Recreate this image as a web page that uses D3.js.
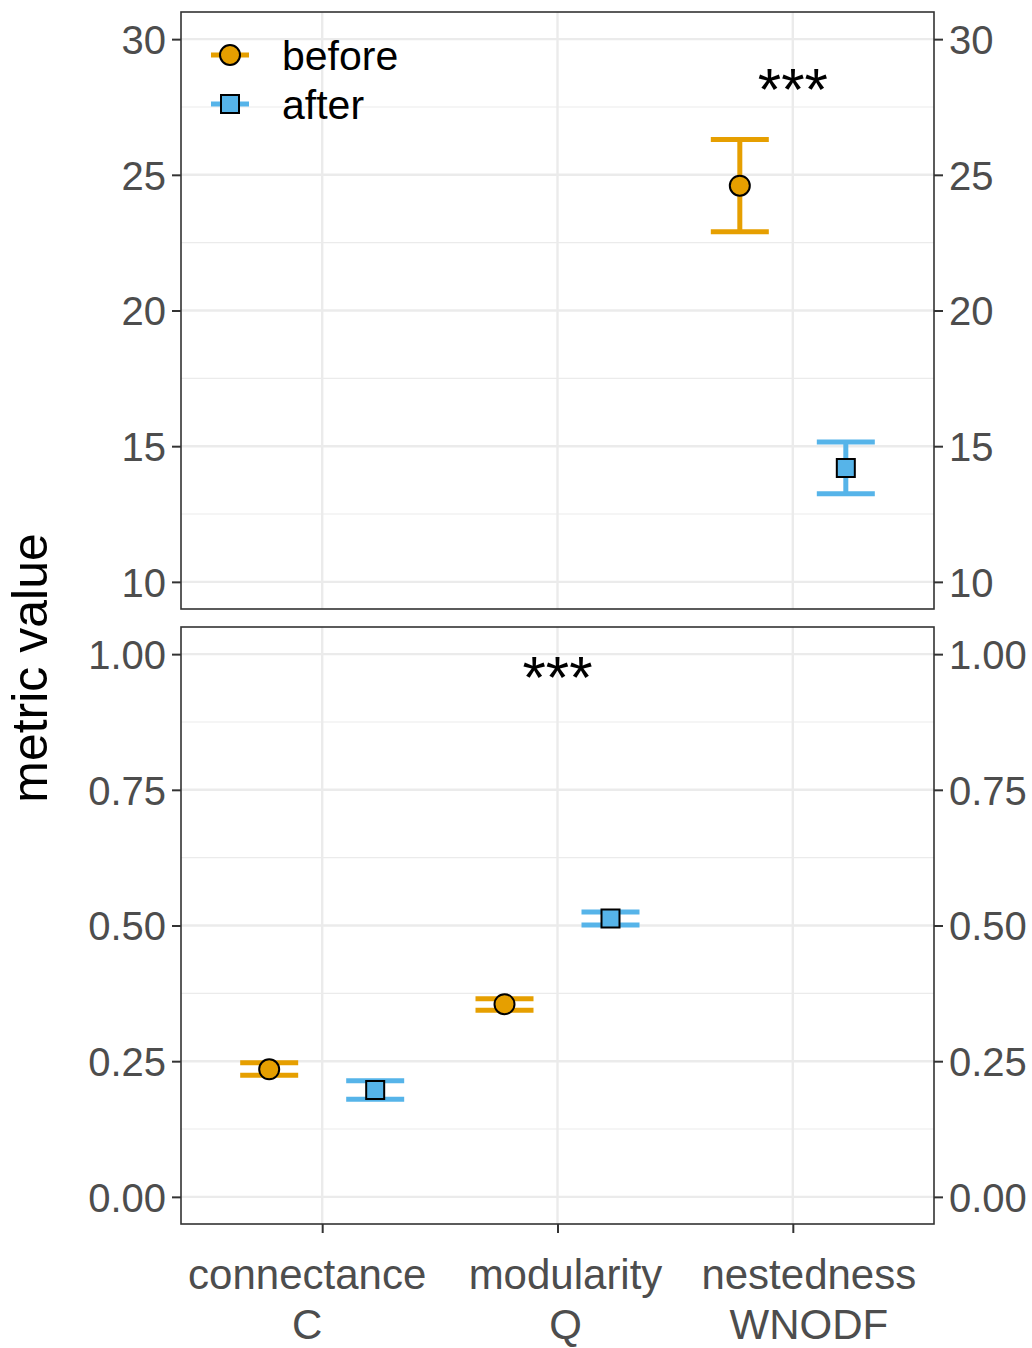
<!DOCTYPE html>
<html>
<head>
<meta charset="utf-8">
<script src="https://cdn.jsdelivr.net/npm/d3@7"></script>
<style>
	body { margin: 0; background: #fff; }
	text { font-family: "Liberation Sans", Arial, sans-serif; }
</style>
</head>
<body>
<div id="chart"></div>
<script>
// data
const categories = ['connectance', 'modularity', 'nestedness'];
const catLine1 = ['connectance', 'modularity', 'nestedness'];
const catLine2 = ['C', 'Q', 'WNODF'];
const groups = ['before', 'after'];

const beforeMean = [0.235, 0.355, 24.6];
const beforeLow = [0.224, 0.344, 22.9];
const beforeHigh = [0.247, 0.365, 26.3];

const afterMean = [0.197, 0.513, 14.2];
const afterLow = [0.180, 0.501, 13.25];
const afterHigh = [0.214, 0.525, 15.15];

// which panel each category sits in (0 = top, 1 = bottom)
const panelOf = [1, 1, 0];
const topTicks = [10, 15, 20, 25, 30];
const bottomTicks = [0, 0.25, 0.5, 0.75, 1];
const stars = [{ cat: 'nestedness', panel: 0, y: 28.5 }, { cat: 'modularity', panel: 1, y: 0.975 }];

const colors = { before: '#E69F00', after: '#56B4E9' };

const W = 1032, H = 1348;
const left = 181, right = 934;
// labels under the axis are not quite centred on their ticks in the original
const labelShift = [-15, 8, 16];

const panels = [
	{ top: 12, bottom: 609, domain: [9, 31], ticks: topTicks, fmt: d3.format('d'), minor: [12.5, 17.5, 22.5, 27.5] },
	{ top: 627, bottom: 1224, domain: [-0.05, 1.05], ticks: bottomTicks, fmt: d3.format('.2f'), minor: [0.125, 0.375, 0.625, 0.875] }
];

const svg = d3.select('#chart').append('svg')
	.attr('width', W)
	.attr('height', H);

const x = d3.scalePoint()
	.domain(categories)
	.range([left, right])
	.padding(0.6);

const dodge = d3.scaleBand().domain(groups).range([-53, 53]).paddingInner(1);
const capHalf = 29;

const rows = [];
categories.forEach((c, i) => {
	rows.push({ cat: c, group: 'before', mean: beforeMean[i], lo: beforeLow[i], hi: beforeHigh[i], panel: panelOf[i] });
	rows.push({ cat: c, group: 'after', mean: afterMean[i], lo: afterLow[i], hi: afterHigh[i], panel: panelOf[i] });
});

panels.forEach((p, pi) => {
	const y = d3.scaleLinear().domain(p.domain).range([p.bottom, p.top]);
	p.y = y;
	const g = svg.append('g');

	// grid
	g.selectAll('.minor').data(p.minor).join('line')
		.attr('x1', left).attr('x2', right)
		.attr('y1', d => y(d)).attr('y2', d => y(d))
		.attr('stroke', '#ebebeb').attr('stroke-width', 1.2);
	g.selectAll('.major').data(p.ticks).join('line')
		.attr('x1', left).attr('x2', right)
		.attr('y1', d => y(d)).attr('y2', d => y(d))
		.attr('stroke', '#ebebeb').attr('stroke-width', 2.4);
	g.selectAll('.vmajor').data(categories).join('line')
		.attr('x1', d => x(d)).attr('x2', d => x(d))
		.attr('y1', p.top).attr('y2', p.bottom)
		.attr('stroke', '#ebebeb').attr('stroke-width', 2.4);

	// axes left and right
	const axL = d3.axisLeft(y).tickValues(p.ticks).tickFormat(p.fmt).tickSize(9).tickPadding(6);
	const axR = d3.axisRight(y).tickValues(p.ticks).tickFormat(p.fmt).tickSize(9).tickPadding(6);
	[[axL, left], [axR, right]].forEach(([ax, pos]) => {
		const a = svg.append('g').attr('transform', `translate(${pos},0)`).call(ax);
		a.select('.domain').remove();
		a.selectAll('line').attr('stroke', '#333').attr('stroke-width', 2);
		a.selectAll('text')
			.attr('fill', '#4d4d4d')
			.attr('font-size', 40)
			.attr('dy', '0.36em');
	});

	// stars
	svg.selectAll(null).data(stars.filter(s => s.panel === pi)).join('text')
		.attr('x', d => x(d.cat))
		.attr('y', d => y(d.y))
		.attr('dy', '0.5em')
		.attr('text-anchor', 'middle')
		.attr('font-size', 60)
		.attr('fill', '#000')
		.text('***');

	const data = rows.filter(r => r.panel === pi);
	const eb = svg.append('g');
	const cx = d => x(d.cat) + dodge(d.group);
	eb.selectAll('.stem').data(data).join('line')
		.attr('x1', cx).attr('x2', cx)
		.attr('y1', d => y(d.lo)).attr('y2', d => y(d.hi))
		.attr('stroke', d => colors[d.group]).attr('stroke-width', 5);
	['lo', 'hi'].forEach(k => {
		eb.selectAll('.cap' + k).data(data).join('line')
			.attr('x1', d => cx(d) - capHalf).attr('x2', d => cx(d) + capHalf)
			.attr('y1', d => y(d[k])).attr('y2', d => y(d[k]))
			.attr('stroke', d => colors[d.group]).attr('stroke-width', 5);
	});
	eb.selectAll('.pt').data(data).join('path')
		.attr('transform', d => `translate(${cx(d)},${y(d.mean)})`)
		.attr('d', d => d.group === 'before'
			? d3.symbol(d3.symbolCircle, Math.PI * 10 * 10)()
			: d3.symbol(d3.symbolSquare, 18 * 18)())
		.attr('fill', d => colors[d.group])
		.attr('stroke', '#000')
		.attr('stroke-width', 2);

	// panel border
	svg.append('rect')
		.attr('x', left).attr('y', p.top)
		.attr('width', right - left).attr('height', p.bottom - p.top)
		.attr('fill', 'none').attr('stroke', '#333').attr('stroke-width', 1.6);
});

// x axis under the bottom panel
const xa = svg.append('g')
	.attr('transform', `translate(0,${panels[1].bottom})`)
	.call(d3.axisBottom(x).tickSize(9).tickFormat(''));
xa.select('.domain').remove();
xa.selectAll('line').attr('stroke', '#333').attr('stroke-width', 2);

const xl = svg.append('g');
xl.selectAll('text').data(categories).join('text')
	.attr('y', 1289)
	.attr('text-anchor', 'middle')
	.attr('font-size', 42)
	.attr('fill', '#4d4d4d')
	.each(function (d, i) {
		const cx = x(d) + labelShift[i];
		d3.select(this).append('tspan').attr('x', cx).text(catLine1[i]);
		d3.select(this).append('tspan').attr('x', cx).attr('dy', 50).text(catLine2[i]);
	});

// y title
svg.append('text')
	.attr('transform', 'translate(47,668) rotate(-90)')
	.attr('text-anchor', 'middle')
	.attr('font-size', 50)
	.attr('fill', '#000')
	.text('metric value');

// legend
const leg = svg.append('g').attr('transform', 'translate(230,55)');
groups.forEach((gname, i) => {
	const row = leg.append('g').attr('transform', `translate(0,${i * 49})`);
	row.append('line')
		.attr('x1', -19).attr('x2', 19)
		.attr('stroke', colors[gname]).attr('stroke-width', 5);
	row.append('path')
		.attr('d', gname === 'before'
			? d3.symbol(d3.symbolCircle, Math.PI * 10 * 10)()
			: d3.symbol(d3.symbolSquare, 18 * 18)())
		.attr('fill', colors[gname])
		.attr('stroke', '#000')
		.attr('stroke-width', 2);
	row.append('text')
		.attr('x', 52)
		.attr('dy', '0.36em')
		.attr('font-size', 41)
		.attr('fill', '#000')
		.text(gname);
});
</script>
</body>
</html>
